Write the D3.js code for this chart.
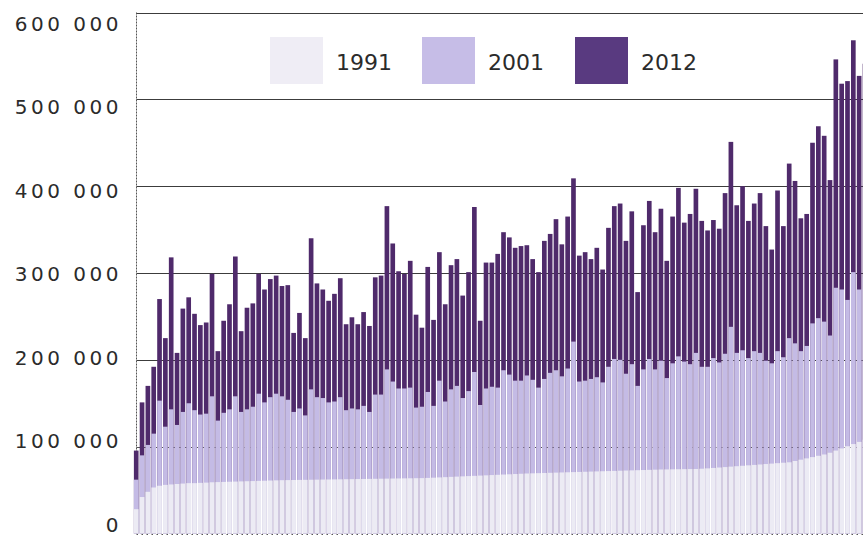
<!DOCTYPE html>
<html>
<head>
<meta charset="utf-8">
<script src="https://cdn.jsdelivr.net/npm/d3@7"></script>
<style>
  html, body { margin: 0; padding: 0; background: #ffffff; }
  svg { display: block; }
  text { font-family: "DejaVu Sans", sans-serif; fill: #2b2b2b; }
</style>
</head>
<body>
<svg id="chart" width="863" height="536"></svg>
<script>
// ---- data (sorted by the 1991 value) ----
const seriesNames = ["1991", "2001", "2012"];
const yTicks = [0, 100000, 200000, 300000, 400000, 500000, 600000];

const v1991 = [
  28000, 42000, 48000, 53000, 55000, 56000, 56500, 57000, 57500, 58000,
  58000, 58300, 58600, 59000, 59200, 59400, 59600, 59800, 60000, 60200,
  60400, 60600, 60800, 61000, 61200, 61400, 61500, 61600, 61700, 61800,
  61900, 62000, 62100, 62200, 62300, 62400, 62500, 62600, 62700, 62800,
  62900, 63000, 63100, 63200, 63300, 63400, 63500, 63600, 63700, 63800,
  64000, 64300, 64600, 64900, 65200, 65500, 65800, 66100, 66400, 66700,
  67000, 67300, 67600, 67900, 68200, 68500, 68800, 69100, 69300, 69500,
  69700, 69900, 70100, 70300, 70500, 70700, 70900, 71100, 71300, 71500,
  71700, 71900, 72100, 72300, 72500, 72700, 72900, 73100, 73300, 73500,
  73700, 73800, 73900, 74000, 74100, 74200, 74300, 74600, 75000, 75500,
  76000, 76500, 77000, 77500, 78000, 78500, 79000, 79500, 80000, 80500,
  81000, 81500, 82000, 83500, 85000, 86500, 88000, 89500, 91000, 93000,
  95500, 98000, 100500, 103000, 105500, 108000
];

const v2001 = [
  62000, 90000, 102000, 115000, 153000, 123000, 143000, 125000, 140000, 150000,
  142000, 137000, 138000, 158000, 130000, 139000, 143000, 158000, 140000, 143000,
  146000, 161000, 151000, 157000, 161000, 158000, 154000, 140000, 144000, 136000,
  166000, 157000, 156000, 151000, 152000, 157000, 142000, 144000, 143000, 147000,
  140000, 160000, 160000, 189000, 175000, 167000, 167000, 168000, 145000, 146000,
  163000, 147000, 176000, 152000, 166000, 170000, 156000, 164000, 186000, 148000,
  167000, 169000, 168000, 188000, 183000, 176000, 176000, 182000, 177000, 168000,
  178000, 185000, 188000, 181000, 190000, 221000, 175000, 176000, 178000, 180000,
  174000, 192000, 201000, 200000, 184000, 195000, 170000, 189000, 201000, 189000,
  199000, 179000, 196000, 204000, 198000, 195000, 208000, 192000, 192000, 202000,
  197000, 207000, 238000, 208000, 211000, 202000, 210000, 208000, 199000, 196000,
  210000, 203000, 225000, 219000, 210000, 216000, 242000, 248000, 244000, 228000,
  283000, 281000, 269000, 301000, 281000, 295000
];

const v2012 = [
  95500, 151000, 170000, 192000, 270000, 225000, 318000, 208000, 259000, 272000,
  253000, 240000, 243000, 299000, 210000, 245000, 264000, 319000, 233000, 260000,
  265000, 299000, 281000, 293000, 297000, 285000, 286000, 231000, 254000, 225000,
  340000, 288000, 281000, 268000, 276000, 294000, 241000, 249000, 241000, 255000,
  239000, 295000, 297000, 377000, 334000, 302000, 299000, 314000, 252000, 237000,
  307000, 246000, 324000, 264000, 309000, 316000, 274000, 301000, 376000, 245000,
  312000, 312000, 322000, 347000, 341000, 329000, 331000, 332000, 316000, 301000,
  337000, 345000, 362000, 333000, 365000, 409000, 320000, 324000, 316000, 329000,
  304000, 352000, 377000, 380000, 337000, 371000, 278000, 355000, 383000, 347000,
  374000, 314000, 365000, 398000, 358000, 368000, 397000, 360000, 349000, 361000,
  351000, 392000, 451000, 378000, 400000, 360000, 380000, 392000, 354000, 327000,
  395000, 354000, 426000, 406000, 363000, 368000, 450000, 469000, 458000, 407000,
  546000, 518000, 521000, 568000, 527000, 541000
];

const colors = { "1991": "#ecebf4", "2001": "#c4bbe5", "2012": "#4f2a6b" };
const legendColors = { "1991": "#efedf5", "2001": "#c6bde7", "2012": "#593a80" };

// ---- layout ----
const svg = d3.select("#chart");
const W = 863, H = 536;
const plotLeft = 136.5, plotTop = 12.5, plotBottom = 533.5;

const idx = d3.range(v2012.length);
const x = d3.scaleBand().domain(idx).range([133.3, 867.9])
  .paddingInner(0.2).paddingOuter(0.1);
const y = d3.scaleLinear().domain([0, 600000]).range([plotBottom, plotTop]);
// label positions in the print sit on a slightly tighter spacing than the grid
const yLabel = d3.scaleLinear().domain([0, 600000]).range([525, 24]);

const fmt = d3.formatLocale({ decimal: ",", thousands: " ", grouping: [3], currency: ["", ""] }).format(",");

// ---- grid ----
const grid = svg.append("g");
yTicks.forEach(t => {
  const ln = grid.append("line")
    .attr("x1", plotLeft).attr("x2", W)
    .attr("y1", Math.round(y(t)) + 0.5).attr("y2", Math.round(y(t)) + 0.5)
    .attr("stroke", "#3c3c3c").attr("stroke-width", 1);
  if (t === 100000) ln.attr("stroke-dasharray", "4,2").attr("stroke", "#555");
  if (t === 0) ln.attr("stroke-dasharray", "1.5,3.5").attr("stroke", "#555");
});
grid.append("line")
  .attr("x1", plotLeft).attr("x2", plotLeft)
  .attr("y1", plotTop).attr("y2", plotBottom)
  .attr("stroke", "#555").attr("stroke-width", 1)
  .attr("stroke-dasharray", "2,1");

// ---- bars (overlapping: 2012 behind, 2001, 1991 in front) ----
const seriesData = { "1991": v1991, "2001": v2001, "2012": v2012 };
["2012", "2001", "1991"].forEach(name => {
  svg.append("g").selectAll("rect")
    .data(seriesData[name])
    .join("rect")
    .attr("x", (d, i) => x(i))
    .attr("width", x.bandwidth())
    .attr("y", d => y(d))
    .attr("height", d => y(0) - y(d))
    .attr("fill", colors[name]);
});

// ---- y axis labels ----
const axis = d3.axisLeft(yLabel).tickValues(yTicks).tickSize(0).tickPadding(0)
  .tickFormat(d => fmt(d));
const ag = svg.append("g").attr("transform", "translate(122,0)").call(axis);
ag.select(".domain").remove();
ag.selectAll("text")
  .attr("font-family", "DejaVu Sans, sans-serif")
  .attr("font-size", 20)
  .attr("fill", "#2b2b2b")
  .style("letter-spacing", "3.5px");

// ---- legend ----
const legendX = { "1991": 270, "2001": 422, "2012": 575 };
const lg = svg.append("g");
seriesNames.forEach(name => {
  lg.append("rect")
    .attr("x", legendX[name]).attr("y", 37)
    .attr("width", 53).attr("height", 47)
    .attr("fill", legendColors[name]);
  lg.append("text")
    .attr("x", legendX[name] + 66).attr("y", 70)
    .attr("font-size", 22)
    .text(name);
});
</script>
</body>
</html>
